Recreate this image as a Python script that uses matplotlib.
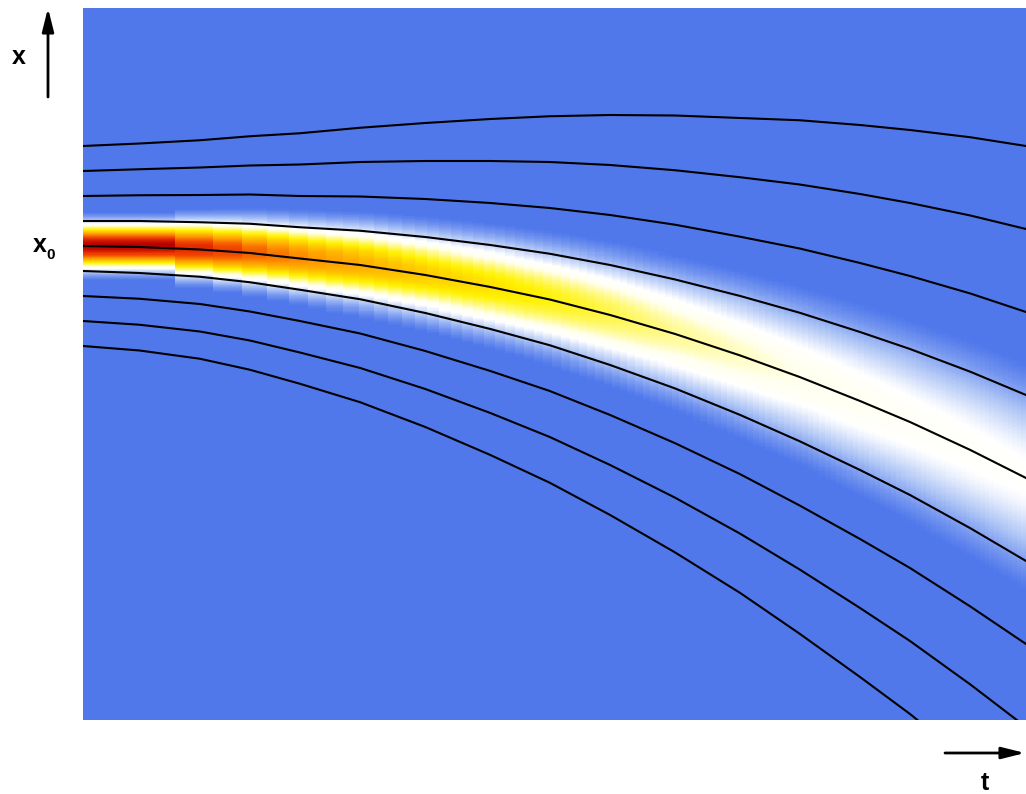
import numpy as np
import matplotlib
matplotlib.use("Agg")
from matplotlib import pyplot as plt
from matplotlib.colors import LinearSegmentedColormap

# sample times (fraction of the time axis) where the trajectories were read
t_pts = [0.0, 0.060, 0.124, 0.177, 0.230, 0.294, 0.363, 0.432, 0.495,
         0.559, 0.628, 0.697, 0.760, 0.824, 0.877, 0.941, 1.0]

# trajectories, x relative to x0 (top to bottom)
line1 = [4.00, 4.10, 4.23, 4.39, 4.51, 4.73, 4.92, 5.08, 5.19, 5.24, 5.22, 5.12, 5.03, 4.84, 4.64, 4.35, 4.00]
line2 = [3.00, 3.07, 3.14, 3.22, 3.26, 3.36, 3.40, 3.40, 3.36, 3.24, 3.03, 2.75, 2.46, 2.08, 1.72, 1.22, 0.68]
line3 = [2.00, 2.03, 2.04, 2.06, 2.00, 1.98, 1.88, 1.72, 1.52, 1.24, 0.85, 0.37, -0.10, -0.68, -1.20, -1.90, -2.64]
line4 = [1.00, 1.00, 0.95, 0.89, 0.75, 0.61, 0.36, 0.04, -0.31, -0.76, -1.34, -2.00, -2.67, -3.44, -4.12, -5.03, -5.96]
line5 = [0.00, -0.04, -0.14, -0.28, -0.50, -0.76, -1.16, -1.64, -2.14, -2.76, -3.52, -4.38, -5.24, -6.20, -7.04, -8.16, -9.28]
line6 = [-1.00, -1.08, -1.23, -1.45, -1.75, -2.13, -2.68, -3.32, -3.97, -4.76, -5.70, -6.76, -7.81, -8.96, -9.96, -11.29, -12.60]
line7 = [-2.00, -2.11, -2.32, -2.62, -3.00, -3.50, -4.20, -5.00, -5.80, -6.76, -7.89, -9.13, -10.38, -11.72, -12.88, -14.42, -15.92]
line8 = [-3.00, -3.15, -3.42, -3.78, -4.26, -4.88, -5.72, -6.68, -7.64, -8.76, -10.07, -11.51, -12.94, -14.48, -15.80, -17.54, -19.24]
line9 = [-4.00, -4.18, -4.51, -4.95, -5.51, -6.25, -7.24, -8.36, -9.47, -10.76, -12.26, -13.88, -15.51, -17.24, -18.72, -20.67, -22.56]
lines = [line1, line2, line3, line4, line5, line6, line7, line8, line9]

t_band = [0.0, 0.124, 0.177, 0.230, 0.363, 0.495, 0.628, 0.760, 0.877, 1.0]
amp = [1.0, 0.87, 0.78, 0.71, 0.58, 0.49, 0.40, 0.34, 0.31, 0.29]
width = [0.56, 0.70, 0.78, 0.86, 1.06, 1.28, 1.55, 1.85, 2.15, 2.45]

x_lo, x_hi = -18.96, 9.52

# density field: gaussian packet following the centre trajectory
t_edges = np.sqrt(np.arange(106) / 105.0)
x_edges = np.linspace(x_lo, x_hi, 700)
x_mid = 0.5 * (x_edges[1:] + x_edges[:-1])
tc = t_edges[:-1]
cen = np.interp(tc, t_pts, line5)
a = np.interp(tc, t_band, amp)
s = np.interp(tc, t_band, width)
dens = a[None, :] * np.exp(-(x_mid[:, None] - cen[None, :]) ** 2 / (2 * s[None, :] ** 2))

cmap = LinearSegmentedColormap.from_list("packet", [
    (0.0, "#5078EB"),
    (0.05, "#5078EB"),
    (0.16, "#A8C0F5"),
    (0.28, "#FFFFFF"),
    (0.34, "#FFFFEE"),
    (0.50, "#FFF200"),
    (0.70, "#FF9A00"),
    (0.86, "#EE3A00"),
    (1.0, "#B80000"),
])

fig = plt.figure(figsize=(10.26, 7.94), dpi=100)
ax = fig.add_axes([83 / 1026, 74 / 794, 943 / 1026, 712 / 794])
ax.pcolormesh(t_edges, x_edges, dens, cmap=cmap, vmin=0, vmax=1, shading="flat")
for ln in lines:
    ax.plot(t_pts, ln, color="black", lw=1.5)
ax.set_xlim(0, 1)
ax.set_ylim(x_lo, x_hi)
ax.axis("off")

# axis arrows and labels
arrow = dict(arrowstyle="-|>,head_length=1.4,head_width=0.35", color="black", lw=2, shrinkA=0, shrinkB=0)
fig.add_artist(plt.Annotation("", xy=(48, 786), xytext=(48, 697), xycoords="figure pixels",
                              textcoords="figure pixels", arrowprops=arrow))
fig.add_artist(plt.Annotation("", xy=(1025, 41), xytext=(945, 41), xycoords="figure pixels",
                              textcoords="figure pixels", arrowprops=arrow))
font = dict(family=["Liberation Sans", "DejaVu Sans"], fontweight="bold")
fig.text(19 / 1026, 737 / 794, "x", fontsize=18, ha="center", va="center", **font)
fig.text(40 / 1026, 549 / 794, "x", fontsize=18, ha="center", va="center", **font)
fig.text(51 / 1026, 539 / 794, "0", fontsize=11, ha="center", va="center", **font)
fig.text(985 / 1026, 11 / 794, "t", fontsize=18, ha="center", va="center", **font)

fig.savefig("out.png", dpi=100)
